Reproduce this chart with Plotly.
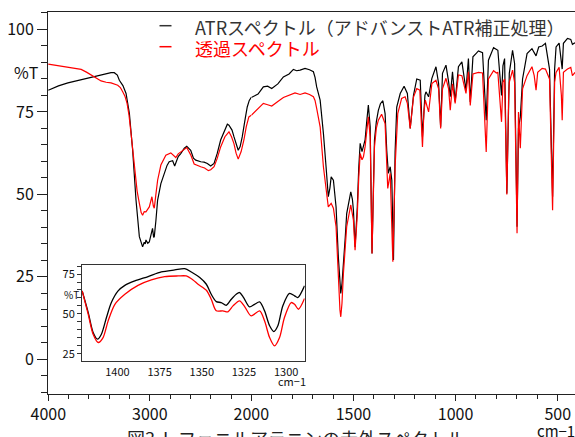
import plotly.graph_objects as go

# ---------------- data ----------------
atr_wn = [4000, 3900, 3807, 3700, 3610, 3500, 3420, 3382, 3350, 3320, 3300, 3265, 3234, 3201, 3169, 3136,
          3103, 3080, 3071, 3055, 3045, 3038, 3020, 3005, 2985, 2973, 2962, 2956, 2940, 2923, 2891, 2858,
          2830, 2809, 2775, 2755, 2744, 2720, 2695, 2660, 2636, 2615, 2597, 2570, 2547, 2498, 2465, 2433,
          2400, 2367, 2335, 2302, 2265, 2236, 2220, 2210, 2190, 2171, 2150, 2129, 2110, 2089, 2060, 2040,
          2020, 2000, 1967, 1941, 1920, 1900, 1870, 1843, 1815, 1794, 1778, 1761, 1737, 1715, 1696, 1688,
          1680, 1663, 1655, 1647, 1634, 1623, 1615, 1609, 1598, 1585, 1574, 1566, 1562, 1556, 1549, 1540,
          1533, 1513, 1505, 1500, 1492, 1481, 1474, 1467, 1458, 1451, 1443, 1435, 1427, 1418, 1409, 1397,
          1388, 1378, 1368, 1356, 1345, 1337, 1329, 1320, 1312, 1304, 1296, 1288, 1271, 1252, 1236, 1222,
          1206, 1190, 1173, 1162, 1150, 1145, 1132, 1116, 1096, 1083, 1073, 1064, 1047, 1034, 1026, 1015,
          1002, 986, 969, 949, 937, 928, 915, 900, 888, 868, 850, 839, 814, 793, 775, 768,
          760, 749, 737, 721, 711, 699, 692, 683, 672, 650, 626, 606, 593, 576, 560, 540,
          525, 515, 508, 493, 482, 478, 472, 452, 436, 428, 415]
atr_t = [81.6, 82.9, 83.8, 84.6, 85.2, 86.0, 86.7, 86.9, 86.9, 86.2, 84.6, 83.0, 80.6, 74.5, 63.4, 48.3,
         37.2, 34.5, 34.1, 35.5, 35.0, 36.2, 35.2, 35.6, 38.5, 39.7, 37.0, 37.2, 42.0, 48.3, 53.3, 56.4,
         58.8, 59.9, 60.2, 58.6, 59.4, 61.5, 62.4, 64.0, 64.6, 64.0, 63.4, 61.0, 60.4, 59.9, 59.8, 59.4,
         58.6, 59.4, 62.5, 66.5, 69.5, 71.3, 71.0, 70.5, 69.5, 67.5, 65.0, 63.4, 64.5, 67.5, 73.0, 76.5,
         78.5, 79.4, 80.4, 82.6, 82.8, 82.1, 83.5, 85.6, 86.5, 87.9, 87.5, 87.7, 88.2, 87.8, 87.2, 85.5,
         82.6, 78.6, 74.0, 68.5, 58.4, 49.3, 52.0, 55.3, 54.3, 46.2, 31.1, 22.0, 20.0, 23.0, 28.1, 37.0,
         44.2, 50.8, 48.5, 45.2, 34.1, 46.2, 58.0, 65.5, 63.0, 64.4, 66.5, 72.0, 77.1, 70.5, 32.1, 66.5,
         72.0, 75.5, 77.5, 78.4, 74.5, 63.4, 56.4, 58.4, 54.3, 30.1, 62.9, 76.5, 80.6, 82.8, 80.6, 70.0,
         80.0, 85.0, 84.6, 67.5, 80.0, 81.1, 79.6, 85.2, 88.7, 83.6, 70.5, 86.7, 89.2, 84.1, 79.6, 87.2,
         78.1, 88.7, 90.2, 81.6, 91.2, 78.0, 91.7, 92.7, 93.5, 93.0, 72.5, 90.7, 94.5, 93.7, 80.0, 89.0,
         91.2, 50.3, 86.7, 93.7, 89.7, 40.2, 70.0, 73.5, 85.0, 92.7, 94.2, 92.0, 94.7, 95.0, 95.8, 88.0,
         49.3, 88.0, 94.7, 95.9, 89.7, 88.0, 95.8, 97.3, 97.0, 95.5, 96.0]

trans_wn = [4000, 3900, 3807, 3740, 3676, 3620, 3578, 3530, 3480, 3430, 3382, 3316, 3290, 3267, 3245, 3224,
            3205, 3185, 3165, 3146, 3125, 3103, 3085, 3071, 3055, 3038, 3020, 3005, 2990, 2979, 2965, 2956,
            2940, 2923, 2891, 2842, 2793, 2765, 2744, 2720, 2695, 2636, 2597, 2563, 2498, 2460, 2423, 2400,
            2367, 2335, 2302, 2260, 2220, 2195, 2171, 2150, 2129, 2100, 2073, 2050, 2024, 2000, 1967, 1941,
            1920, 1900, 1870, 1843, 1786, 1761, 1737, 1715, 1696, 1688, 1680, 1663, 1647, 1634, 1623, 1609,
            1598, 1585, 1574, 1566, 1562, 1556, 1549, 1540, 1533, 1513, 1505, 1500, 1492, 1481, 1474, 1467,
            1458, 1451, 1443, 1435, 1427, 1418, 1409, 1397, 1388, 1378, 1362, 1345, 1337, 1332, 1320, 1307,
            1296, 1283, 1264, 1247, 1236, 1222, 1206, 1190, 1175, 1162, 1155, 1148, 1132, 1116, 1096, 1083,
            1073, 1064, 1047, 1034, 1026, 1015, 1002, 986, 969, 949, 937, 928, 915, 900, 888, 868,
            850, 839, 814, 800, 793, 775, 768, 760, 749, 740, 737, 721, 711, 699, 692, 683,
            672, 650, 626, 615, 606, 598, 576, 560, 540, 525, 515, 508, 493, 482, 478, 472,
            452, 436, 428, 415]
trans_t = [89.5, 89.0, 88.7, 88.3, 87.9, 87.0, 86.2, 85.2, 84.4, 84.0, 83.8, 83.1, 82.4, 81.1, 79.8, 77.6,
           74.0, 68.5, 62.0, 56.4, 51.0, 47.3, 44.5, 43.7, 44.8, 44.7, 45.5, 46.2, 48.0, 49.3, 46.5, 45.8,
           50.0, 54.3, 58.9, 61.9, 62.6, 61.8, 61.2, 62.3, 62.9, 64.2, 62.0, 59.2, 58.4, 58.0, 57.2, 57.5,
           58.4, 61.0, 64.4, 67.5, 69.0, 67.5, 65.4, 62.5, 60.7, 63.0, 66.5, 70.5, 73.5, 74.0, 76.1, 77.6,
           77.2, 76.8, 78.2, 79.4, 80.8, 80.3, 80.8, 80.3, 79.6, 78.5, 76.1, 70.5, 58.4, 51.3, 46.2, 47.3,
           45.8, 40.2, 24.0, 15.0, 12.9, 17.0, 26.1, 34.0, 40.2, 46.8, 44.5, 42.2, 33.1, 44.0, 55.0, 62.4,
           60.5, 61.4, 64.4, 69.5, 73.5, 67.5, 32.1, 64.4, 70.0, 72.5, 74.3, 71.5, 58.4, 51.8, 56.4, 29.6,
           58.4, 74.5, 79.1, 79.6, 77.6, 70.0, 79.5, 82.1, 81.6, 64.4, 75.0, 78.6, 75.0, 83.6, 84.6, 82.0,
           70.0, 82.0, 85.2, 82.0, 75.5, 83.5, 77.6, 86.2, 86.0, 80.6, 87.2, 77.0, 86.5, 86.8, 87.0, 86.8,
           62.9, 85.0, 87.5, 86.8, 87.0, 72.0, 84.0, 85.0, 50.0, 80.0, 84.0, 87.7, 84.0, 38.2, 75.0, 64.0,
           82.0, 86.0, 88.7, 86.0, 81.6, 87.0, 88.2, 88.0, 85.0, 45.2, 84.0, 87.0, 88.5, 80.0, 72.5, 87.0,
           88.0, 88.5, 86.0, 87.0]

# inset (1420-1290 cm-1)
inset_atr_wn = [1420.9, 1417.3, 1414.4, 1411.8, 1409.5, 1406.5, 1403.6, 1399.6, 1395.6, 1389.7, 1381.8, 1374.0,
                1366.0, 1360.1, 1356.2, 1351.2, 1347.3, 1344.4, 1341.4, 1338.5, 1335.5, 1332.5, 1329.6, 1327.6,
                1325.2, 1321.7, 1318.7, 1315.7, 1312.8, 1309.8, 1307.3, 1304.9, 1302.0, 1298.0, 1295.0, 1293.1,
                1289.1]
inset_atr_t = [64.4, 50.8, 38.3, 34.1, 37.2, 47.7, 57.1, 64.4, 67.9, 70.7, 73.4, 76.3,
               77.6, 78.4, 76.3, 72.8, 68.6, 62.3, 57.7, 57.1, 55.4, 59.2, 62.3, 63.4,
               60.2, 54.4, 56.0, 57.5, 51.9, 42.5, 38.9, 42.5, 55.0, 62.9, 61.3, 60.2,
               67.6]
inset_trans_wn = [1420.9, 1417.3, 1414.4, 1411.4, 1408.5, 1405.5, 1401.5, 1395.6, 1387.8, 1379.9, 1372.0, 1364.0,
                  1359.2, 1355.2, 1352.2, 1347.3, 1344.4, 1341.4, 1337.5, 1334.5, 1331.5, 1327.6, 1324.6, 1320.7,
                  1315.7, 1312.8, 1309.8, 1306.9, 1303.9, 1301.0, 1297.0, 1295.0, 1292.7, 1289.1]
inset_trans_t = [64.4, 49.7, 37.2, 32.0, 35.1, 45.6, 56.0, 62.3, 67.9, 71.3, 73.4, 73.8,
                 73.8, 71.3, 68.6, 64.8, 59.2, 51.9, 51.9, 51.3, 55.0, 58.2, 54.6, 48.7,
                 51.9, 45.6, 35.1, 29.9, 35.1, 47.7, 57.1, 56.0, 52.9, 59.6]

legend_labels = ["ATRスペクトル（アドバンストATR補正処理）", "透過スペクトル"]
caption = "図3  L-フェニルアラニンの赤外スペクトル"
x_hi_ticks = [4000, 3000, 2000]
x_lo_ticks = [1500, 1000, 500]
y_ticks = [0, 25, 50, 75, 100]
inset_x_ticks = [1400, 1375, 1350, 1325, 1300]
inset_y_ticks = [25, 50, 75]

# ---------------- figure ----------------
FONT = "Noto Sans CJK JP"
BLACK = "#000000"
RED = "#ff0000"
W, H = 575, 437
ML, MR, MT, MB = 48, 0, 12, 43
PW, PH = W - ML - MR, H - MT - MB


def px(x):
    return (x - ML) / PW


def py(y):
    return (H - MB - y) / PH


def split(wn, t, hi=True):
    pairs = [(a, b) for a, b in zip(wn, t) if (a >= 2000 if hi else a <= 2000)]
    return [p[0] for p in pairs], [p[1] for p in pairs]


fig = go.Figure()
for wn, t, col in [(atr_wn, atr_t, BLACK), (trans_wn, trans_t, RED)]:
    for hi, xa in [(True, "x"), (False, "x3")]:
        xs, ys = split(wn, t, hi)
        fig.add_trace(go.Scatter(x=xs, y=ys, mode="lines", xaxis=xa, yaxis="y",
                                 line=dict(color=col, width=1.2), showlegend=False,
                                 hoverinfo="skip"))

for wn, t, col in [(inset_atr_wn, inset_atr_t, BLACK), (inset_trans_wn, inset_trans_t, RED)]:
    fig.add_trace(go.Scatter(x=wn, y=t, mode="lines", xaxis="x2", yaxis="y2",
                             line=dict(color=col, width=1.3, shape="spline", smoothing=0.8),
                             showlegend=False, hoverinfo="skip"))

split_dom = px(251.3)
tickfont = dict(family=FONT, size=16, color="#111")
axis_common = dict(showline=True, linecolor="#222", linewidth=1, mirror=True, showgrid=False,
                   zeroline=False, ticks="outside", tickcolor="#222", tickfont=tickfont,
                   automargin=False)

fig.update_layout(
    width=W, height=H, margin=dict(l=ML, r=MR, t=MT, b=MB, autoexpand=False),
    paper_bgcolor="white", plot_bgcolor="white",
    font=dict(family=FONT),
    xaxis=dict(domain=[0, split_dom], range=[4003, 2000], anchor="y",
               tickmode="array", tickvals=x_hi_ticks, ticktext=[str(v) for v in x_hi_ticks],
               ticklen=6,
               minor=dict(tickmode="linear", tick0=0, dtick=200, ticklen=4, ticks="outside",
                          tickcolor="#222"),
               **axis_common),
    xaxis3=dict(domain=[split_dom, 1], range=[2000, 415.3], anchor="y",
                tickmode="array", tickvals=x_lo_ticks, ticktext=[str(v) for v in x_lo_ticks],
                ticklen=6,
                minor=dict(tickmode="linear", tick0=0, dtick=100, ticklen=4, ticks="outside",
                           tickcolor="#222"),
                **axis_common),
    yaxis=dict(domain=[0, 1], range=[-10.5, 105.3], anchor="x",
               tickmode="array", tickvals=y_ticks, ticktext=[str(v) for v in y_ticks],
               ticklen=10, showline=True, linecolor="#222", linewidth=1, mirror=False,
               showgrid=False, zeroline=False, ticks="outside", tickcolor="#222", tickfont=tickfont,
               automargin=False,
               minor=dict(tickmode="linear", tick0=0, dtick=5, ticklen=6, ticks="outside",
                          tickcolor="#222")),
    xaxis2=dict(domain=[px(82), px(304.7)], range=[1421, 1289], anchor="y2",
                tickmode="array", tickvals=inset_x_ticks, ticktext=[str(v) for v in inset_x_ticks],
                showline=True, linecolor="#333", linewidth=1, mirror=True, showgrid=False,
                zeroline=False, ticks="", automargin=False,
                tickfont=dict(family=FONT, size=11, color="#111")),
    yaxis2=dict(domain=[py(361.3), py(265.3)], range=[20.2, 80.5], anchor="x2",
                tickmode="array", tickvals=inset_y_ticks, ticktext=[str(v) for v in inset_y_ticks],
                showline=True, linecolor="#333", linewidth=1, mirror=True, showgrid=False,
                zeroline=False, ticks="outside", ticklen=4, tickcolor="#333", automargin=False,
                tickfont=dict(family=FONT, size=11, color="#111"),
                minor=dict(tickmode="linear", tick0=0, dtick=5, ticklen=4, ticks="outside",
                           tickcolor="#333")),
)

ann = []
ann.append(dict(text="%T", x=px(26), y=py(72), xref="paper", yref="paper", showarrow=False,
                font=dict(family=FONT, size=16, color="#111"), xanchor="center", yanchor="middle"))
ann.append(dict(text="cm−1", x=px(556), y=py(430), xref="paper", yref="paper", showarrow=False,
                font=dict(family=FONT, size=15, color="#111"), xanchor="center", yanchor="middle"))
ann.append(dict(text=caption, x=px(296), y=py(423), xref="paper", yref="paper", showarrow=False,
                font=dict(family=FONT, size=18, color="#222"), xanchor="center", yanchor="top"))
ann.append(dict(text="%T", x=px(71.7), y=py(295), xref="paper", yref="paper", showarrow=False,
                font=dict(family=FONT, size=10, color="#111"), xanchor="center", yanchor="middle"))
ann.append(dict(text="cm−1", x=px(292), y=py(381), xref="paper", yref="paper", showarrow=False,
                font=dict(family=FONT, size=11, color="#111"), xanchor="center", yanchor="middle"))
ann.append(dict(text=legend_labels[0], x=px(193), y=py(27), xref="paper", yref="paper",
                showarrow=False, font=dict(family=FONT, size=18, color="#333"),
                xanchor="left", yanchor="middle"))
ann.append(dict(text=legend_labels[1], x=px(193), y=py(48), xref="paper", yref="paper",
                showarrow=False, font=dict(family=FONT, size=18, color=RED),
                xanchor="left", yanchor="middle"))
fig.update_layout(annotations=ann)

fig.add_shape(type="line", xref="paper", yref="paper", x0=px(159.5), x1=px(171.5),
              y0=py(25.7), y1=py(25.7), line=dict(color="#333", width=1.5))
fig.add_shape(type="line", xref="paper", yref="paper", x0=px(159.5), x1=px(171.5),
              y0=py(46.7), y1=py(46.7), line=dict(color=RED, width=1.5))

fig.write_html("out.html", config={"displayModeBar": False},
               post_script="document.body.style.margin='0px';document.body.style.overflow='hidden';")
